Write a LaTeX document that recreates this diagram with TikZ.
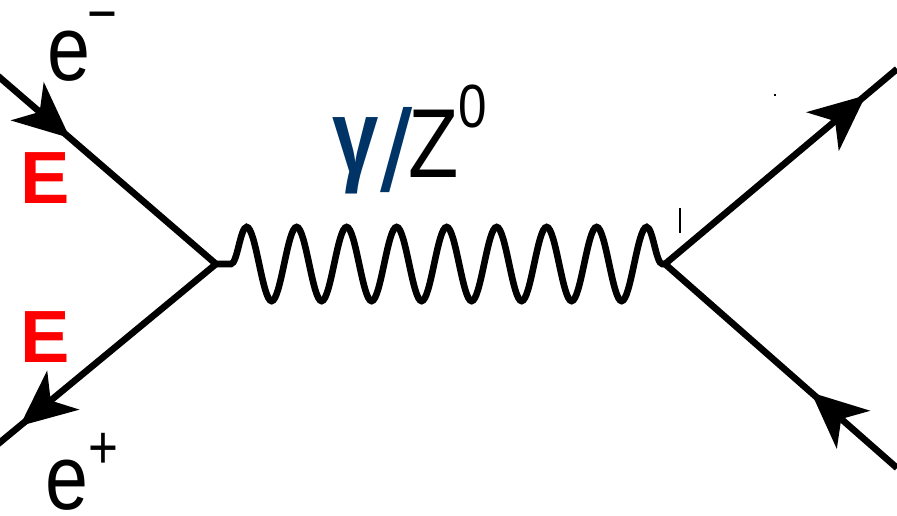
\documentclass[tikz,border=0pt]{standalone}
\usepackage{fontspec}
\setmainfont{Liberation Sans}
\usepackage{graphicx}
\usepackage{xcolor}
\definecolor{cBoson}{HTML}{003466}
\definecolor{cEnergy}{HTML}{FF0000}
\usetikzlibrary{arrows.meta,decorations.pathmorphing,decorations.markings}
\newcommand{\narrowtext}[1]{\scalebox{0.84}[1]{#1}}
\newcommand{\supfont}{\fontsize{30.5}{30.5}\selectfont}
\tikzset{
  line-fermion/.style={line width=3.3pt,postaction={decorate},
    decoration={markings,mark=at position #1 with
      {\arrow{Stealth[length=28pt,width=25pt,inset=8pt]}}}},
  line-photon/.style={line width=3.3pt,decorate,
    decoration={snake,segment length=25pt,amplitude=18.5pt,pre length=7.5pt}},
  label-lep/.style={inner sep=0pt,anchor=base west,font=\fontsize{46}{46}\selectfont},
  label-E/.style={inner sep=0pt,text=cEnergy,font=\fontsize{37}{37}\selectfont\bfseries},
  label-boson/.style={inner sep=0pt,font=\fontsize{49}{49}\selectfont},
}
\begin{document}
\begin{tikzpicture}[x=0.5pt,y=-0.5pt]
  \useasboundingbox (0,0) rectangle (897,515);
  % vertices and free ends
  \coordinate (vL) at (216,264);
  \coordinate (vR) at (665,264);
  \coordinate (eIn) at (-2,76);
  \coordinate (eOut) at (-2,444);
  \coordinate (fOut) at (897,69);
  \coordinate (fIn) at (897,468);
  % lines
  \draw[line-fermion=0.33] (eIn) -- (vL);
  \draw[line-fermion=0.9] (vL) -- (eOut);
  \draw[line-photon] (vL) -- (vR);
  \draw[line-fermion=0.865] (vR) -- (fOut);
  \draw[line-fermion=0.37] (fIn) -- (vR);
  % labels
  \node[label-lep] (eMinus) at (47,80)
    {\narrowtext{e\kern-2pt\raisebox{23pt}{\supfont −}}};
  \node[label-lep] (ePlus) at (45,509)
    {\narrowtext{e\raisebox{20.5pt}{\supfont +}}};
  \node[label-E] (eTop) at (45,178) {E};
  \node[label-E] (eBottom) at (45,337) {E};
  \node[label-boson,anchor=base east,text=cBoson] (bosonGamma) at (413,191)
    {\fontsize{58}{58}\selectfont
     \raisebox{9.5pt}{\bfseries\fontsize{52}{52}\selectfont\scalebox{0.8}[1]{γ}}\kern1pt/};
  \node[label-boson,anchor=base west] (bosonZ) at (408,177)
    {\narrowtext{Z\raisebox{25pt}{\supfont 0}}};
  % stray marks
  \draw[line width=1pt] (680,208) -- (680,233);
  \fill (774,94) rectangle (776,96);
\end{tikzpicture}
\end{document}
